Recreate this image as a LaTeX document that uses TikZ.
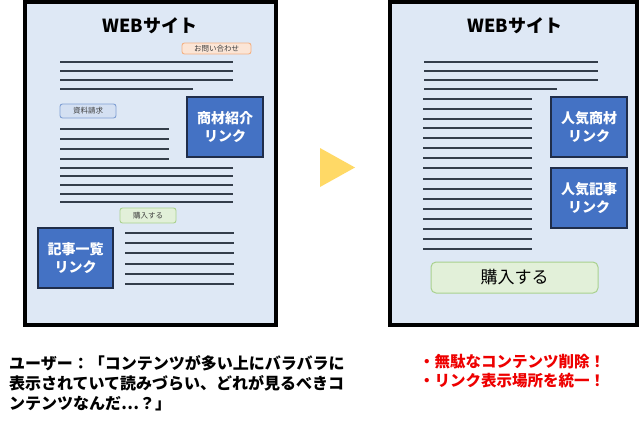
\documentclass[tikz,border=0pt]{standalone}
\usepackage{fontspec}
\setmainfont{Noto Sans CJK JP}
\definecolor{panel}{HTML}{DEE8F5}
\definecolor{linkblue}{HTML}{4472C4}
\definecolor{navy}{HTML}{1F2D4A}
\definecolor{linegray}{HTML}{333D4A}
\definecolor{tagtext}{HTML}{404040}
\definecolor{orfill}{HTML}{FBE5D6}
\definecolor{ordraw}{HTML}{F4B183}
\definecolor{bufill}{HTML}{D4E0F2}
\definecolor{budraw}{HTML}{7F9FD3}
\definecolor{grfill}{HTML}{E2F0D9}
\definecolor{grdraw}{HTML}{A9D18E}
\definecolor{arrowyellow}{HTML}{FFD966}
\definecolor{alertred}{HTML}{EE0000}
\begin{document}
\begin{tikzpicture}[x=1pt,y=-1pt,
  frame/.style={draw=black,line width=4pt,fill=panel},
  txtline/.style={draw=linegray,line width=1.6pt},
  bluebox/.style={draw=navy,line width=1.5pt,fill=linkblue,text=white,
    font=\bfseries\fontsize{14}{18}\selectfont,align=center,inner sep=0pt,
    minimum width=76pt,minimum height=60pt},
  tag/.style={rounded corners=2.5pt,line width=0.9pt,
    font=\fontsize{7.5}{9}\selectfont,text=tagtext,inner sep=0pt},
  sitetitle/.style={font=\bfseries\fontsize{18}{20}\selectfont,inner sep=0pt}]
\useasboundingbox (0,0) rectangle (640,421);
\fill[white] (0,0) rectangle (640,421);

% ---------- left page ----------
\draw[frame] (25,2) rectangle (276,325);
\node[sitetitle] (titleL) at (150,26) {WEBサイト};
\node[tag,draw=ordraw,fill=orfill,minimum width=69pt,minimum height=11pt] (contact) at (216.5,48.5) {お問い合わせ};
\foreach \y in {62,71,80} \draw[txtline] (60,\y) -- (233,\y);
\draw[txtline] (60,89) -- (193,89);
\node[tag,draw=budraw,fill=bufill,minimum width=56pt,minimum height=14pt] (request) at (88,111) {資料請求};
\node[bluebox] (shozai) at (225,127) {商材紹介\\リンク};
\foreach \y in {129,139,149,159} \draw[txtline] (60,\y) -- (169,\y);
\foreach \y in {168,176,185,194,202} \draw[txtline] (60,\y) -- (233,\y);
\node[tag,draw=grdraw,fill=grfill,minimum width=56pt,minimum height=15pt] (buyS) at (148,215.5) {購入する};
\node[bluebox,minimum width=75pt] (kiji) at (75.5,258) {記事一覧\\リンク};
\foreach \y in {233,243,253,264,274,284} \draw[txtline] (125,\y) -- (234,\y);

% ---------- arrow ----------
\fill[arrowyellow] (320,148) -- (355,167.5) -- (320,187) -- cycle;

% ---------- right page ----------
\draw[frame] (390,2) rectangle (637,325);
\node[sitetitle] (titleR) at (515,26) {WEBサイト};
\foreach \y in {62,71,80} \draw[txtline] (424,\y) -- (598,\y);
\draw[txtline] (424,89) -- (557,89);
\foreach \y in {99,109,119,128,138,148,158,168,179,189,199,209,219,229,239,249} \draw[txtline] (423,\y) -- (532,\y);
\node[bluebox] (ninkiS) at (589,127) {人気商材\\リンク};
\node[bluebox] (ninkiK) at (589,198) {人気記事\\リンク};
\node[draw=grdraw,fill=grfill,line width=1pt,rounded corners=5pt,
  minimum width=167pt,minimum height=31pt,inner sep=0pt,
  font=\fontsize{17}{20}\selectfont] (buyL) at (514.5,277.5) {購入する};

% ---------- captions ----------
\node[anchor=north west,inner sep=0pt,align=left,
  font=\bfseries\fontsize{16}{20}\selectfont] (userq) at (9,355)
  {ユーザー：「コンテンツが多い上にバラバラに\\表示されていて読みづらい、どれが見るべきコ\\ンテンツなんだ…？」};
\node[anchor=north west,inner sep=0pt,align=left,text=alertred,
  font=\bfseries\fontsize{15.5}{19}\selectfont] (fixes) at (419,354)
  {・無駄なコンテンツ削除！\\・リンク表示場所を統一！};
\end{tikzpicture}
\end{document}
